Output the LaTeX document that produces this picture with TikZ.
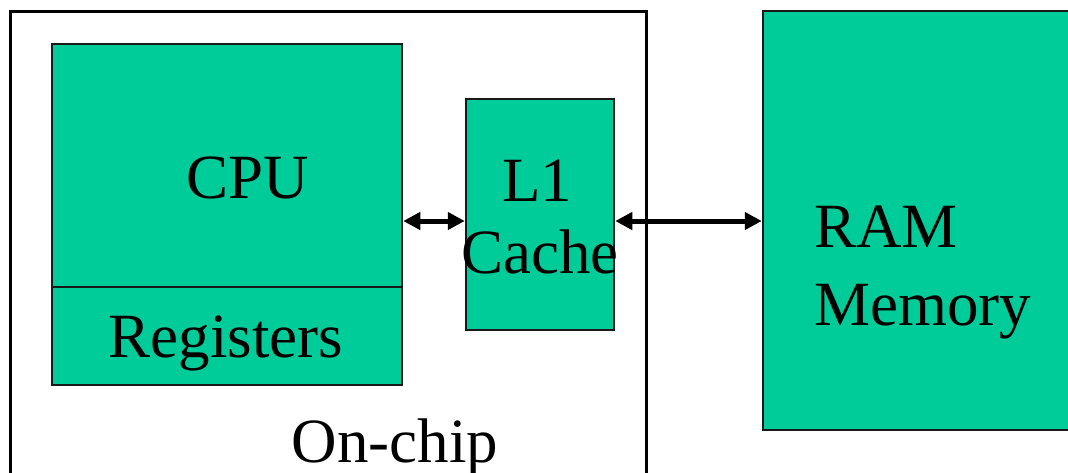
\documentclass[tikz,border=0pt]{standalone}
\usepackage{fontspec}
\setmainfont{Liberation Serif}
\usetikzlibrary{arrows.meta}
\definecolor{chipgreen}{RGB}{0,204,153}
\tikzset{
  unit/.style={draw=black!90, line width=2.5pt, fill=chipgreen, inner sep=0pt},
  label/.style={font=\fontsize{63}{72}\selectfont, anchor=base, inner sep=0pt},
  bus/.style={<->, line width=5pt},
}
\begin{document}
\begin{tikzpicture}[x=1pt, y=-1pt, >={Triangle[length=17pt, width=17pt]}]
    % Page frame
    \useasboundingbox (0,0) rectangle (1068,472);
    \clip (0,0) rectangle (1068,472);

    % On-chip region
    \node[draw, line width=3pt, minimum width=636pt, minimum height=490pt, inner sep=0pt]
        (chip) at (328,256) {};

    % The boxes
    \node[unit, minimum width=350pt, minimum height=341pt] (cpu) at (227,214.5) {};
    \node[unit, minimum width=148pt, minimum height=231pt] (l1) at (540,214.5) {};
    \node[unit, minimum width=320pt, minimum height=419pt] (ram) at (923,220.5) {};

    % CPU / registers split
    \coordinate (split) at (0,287);
    \draw[line width=2.5pt, black!90] (cpu.west |- split) -- (cpu.east |- split);

    % Links
    \coordinate (bus) at (0,221);
    \draw[bus] (cpu.east |- bus) -- (l1.west |- bus);
    \draw[bus] (l1.east |- bus) -- (ram.west |- bus);

    % Texts
    \node[label] (cputext) at (248,198) {CPU};
    \node[label] (regtext) at (226,357) {Registers};
    \node[label] (l1text) at (537,201) {L1};
    \node[label] (cachetext) at (540,273) {Cache};
    \node[label, anchor=base west] (ramtext) at (814,247) {RAM};
    \node[label, anchor=base west] (memtext) at (814,325) {Memory};
    \node[label] (chiptext) at (395,462) {On-chip};
\end{tikzpicture}
\end{document}
